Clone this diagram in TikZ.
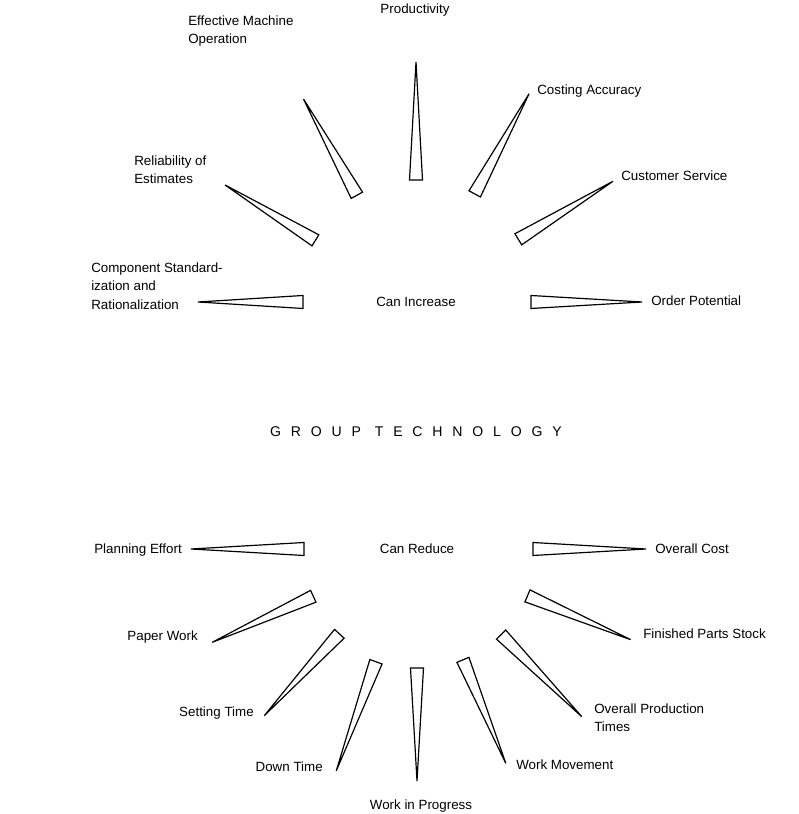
\documentclass[tikz,border=0pt]{standalone}
\usepackage{fontspec}
\setmainfont{Liberation Sans}
\newfontfamily\spacedfont[LetterSpace=70]{Liberation Sans}
\usetikzlibrary{calc}

\tikzset{
  lbl/.style={font=\fontsize{9.5}{13}\selectfont, inner sep=0pt},
  ray/.style={draw, line width=0.85pt, line join=miter, fill=white},
}

\begin{document}
\begin{tikzpicture}[x=0.025cm, y=0.025cm]
\useasboundingbox (0,0) rectangle (798,814);

% Centre captions
\node[lbl] (inc) at (416,512) {Can Increase};
\node[lbl] (red) at (417,265) {Can Reduce};
\node[font=\spacedfont\fontsize{10}{12}\selectfont] (gt) at (416,382) {GROUP TECHNOLOGY};

% Upper fan: angle / inner radius / tip radius
\foreach \a/\ri/\ro in {0/115/226, 31.5/120/231, 61.5/123/237, 90/122/240,
                        119/122/232, 148.5/118/224, 180/113/218}
  \draw[ray] ($(inc)+(\a:\ri)+(\a+90:6.5)$) -- ($(inc)+(\a:\ro)$)
             -- ($(inc)+(\a:\ri)+(\a-90:6.5)$) -- cycle;

% Lower fan
\foreach \a/\ri/\ro in {180/113/226, 204.5/114/225, 227.5/115/226, 250/120/236,
                        270/119/232, 292.5/120/232, 314.5/120/235, 337/120/232, 360/116/229}
  \draw[ray] ($(red)+(\a:\ri)+(\a+90:6.5)$) -- ($(red)+(\a:\ro)$)
             -- ($(red)+(\a:\ri)+(\a-90:6.5)$) -- cycle;

% Labels, upper half
\node[lbl] (prod) at (415,804) {Productivity};
\node[lbl, anchor=west, align=left] (emo) at (188,783) {Effective Machine\\Operation};
\node[lbl, anchor=west, align=left] (rel) at (134,644) {Reliability of\\Estimates};
\node[lbl, anchor=west, align=left] (comp) at (91,528) {Component Standard-\\ization and\\Rationalization};
\node[lbl, anchor=west] (cost) at (537,723) {Costing Accuracy};
\node[lbl, anchor=west] (cust) at (621,638) {Customer Service};
\node[lbl, anchor=west] (order) at (651,513) {Order Potential};

% Labels, lower half
\node[lbl, anchor=east] (plan) at (182,264) {Planning Effort};
\node[lbl, anchor=east] (paper) at (198,177) {Paper Work};
\node[lbl, anchor=east] (set) at (254,101) {Setting Time};
\node[lbl, anchor=east] (down) at (323,47) {Down Time};
\node[lbl] (wip) at (421,8) {Work in Progress};
\node[lbl, anchor=west] (move) at (516,49) {Work Movement};
\node[lbl, anchor=west, align=left] (prodt) at (594,96) {Overall Production\\Times};
\node[lbl, anchor=west] (stock) at (643,180) {Finished Parts Stock};
\node[lbl, anchor=west] (ocost) at (655,265) {Overall Cost};

\end{tikzpicture}
\end{document}
